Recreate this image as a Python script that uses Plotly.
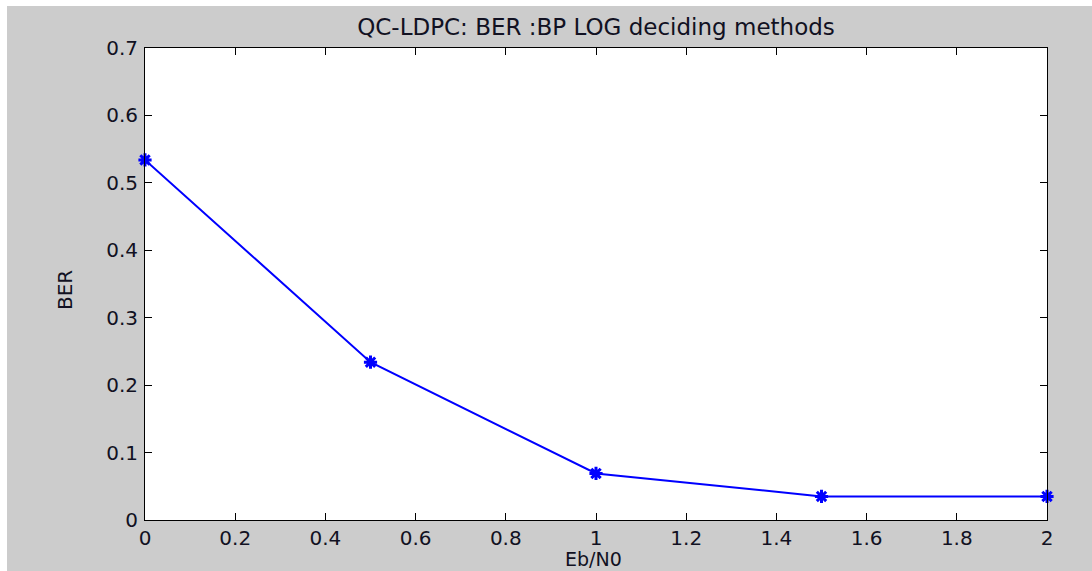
import plotly.graph_objects as go

# Data
ebn0 = [0, 0.5, 1.0, 1.5, 2.0]
ber = [0.534, 0.234, 0.069, 0.035, 0.035]

x_ticks = [0, 0.2, 0.4, 0.6, 0.8, 1.0, 1.2, 1.4, 1.6, 1.8, 2.0]
x_tick_labels = ["0", "0.2", "0.4", "0.6", "0.8", "1", "1.2", "1.4", "1.6", "1.8", "2"]
y_ticks = [0, 0.1, 0.2, 0.3, 0.4, 0.5, 0.6, 0.7]
y_tick_labels = ["0", "0.1", "0.2", "0.3", "0.4", "0.5", "0.6", "0.7"]

W, H = 1092, 571
L, R, T, B = 145, 45, 48, 51
pw = W - L - R
ph = H - T - B

FONT = "DejaVu Sans"
TXT = "#111122"

fig = go.Figure()
fig.add_trace(go.Scatter(
    x=ebn0, y=ber, mode="lines+markers",
    line=dict(color="#0000FF", width=2),
    marker=dict(symbol="asterisk-open", size=11,
                line=dict(color="#0000FF", width=3), color="#0000FF"),
    cliponaxis=False, showlegend=False,
))

# white strips at top and left edges of the image
fig.add_shape(type="rect", xref="paper", yref="paper",
              x0=-L / pw, x1=(W - L) / pw, y0=(H - B - 6) / ph, y1=(H - B) / ph + 0.02,
              fillcolor="white", line_width=0, layer="below")
fig.add_shape(type="rect", xref="paper", yref="paper",
              x0=-L / pw - 0.01, x1=(-L + 7) / pw, y0=-B / ph - 0.01, y1=(H - B) / ph + 0.02,
              fillcolor="white", line_width=0, layer="below")

axis_common = dict(
    showgrid=False, zeroline=False, showline=True, linecolor="#000000",
    linewidth=1, mirror="allticks", ticks="inside", ticklen=7,
    tickcolor="#000000", tickfont=dict(family=FONT, size=20, color=TXT),
    automargin=False,
)

fig.update_layout(
    width=W, height=H,
    margin=dict(l=L, r=R, t=T, b=B, pad=0, autoexpand=False),
    paper_bgcolor="#CCCCCC", plot_bgcolor="#FFFFFF",
    title=dict(text="QC-LDPC: BER :BP LOG deciding methods",
               font=dict(family=FONT, size=23, color=TXT),
               x=0.5, xref="paper", xanchor="center",
               y=(H - 27) / H, yref="container", yanchor="middle"),
    xaxis=dict(range=[0, 2], tickvals=x_ticks, ticktext=x_tick_labels,
               ticklabelstandoff=0, **axis_common),
    yaxis=dict(range=[0, 0.7], tickvals=y_ticks, ticktext=y_tick_labels,
               ticklabelstandoff=2, **axis_common),
    annotations=[
        dict(text="Eb/N0", xref="paper", yref="paper",
             x=(593 - L) / pw, y=(H - B - 559) / ph,
             xanchor="center", yanchor="middle", showarrow=False,
             font=dict(family=FONT, size=19, color=TXT)),
        dict(text="BER", xref="paper", yref="paper",
             x=(65 - L) / pw, y=(H - B - 290) / ph, textangle=-90,
             xanchor="center", yanchor="middle", showarrow=False,
             font=dict(family=FONT, size=20, color=TXT)),
    ],
)

fig.write_html("out.html")
